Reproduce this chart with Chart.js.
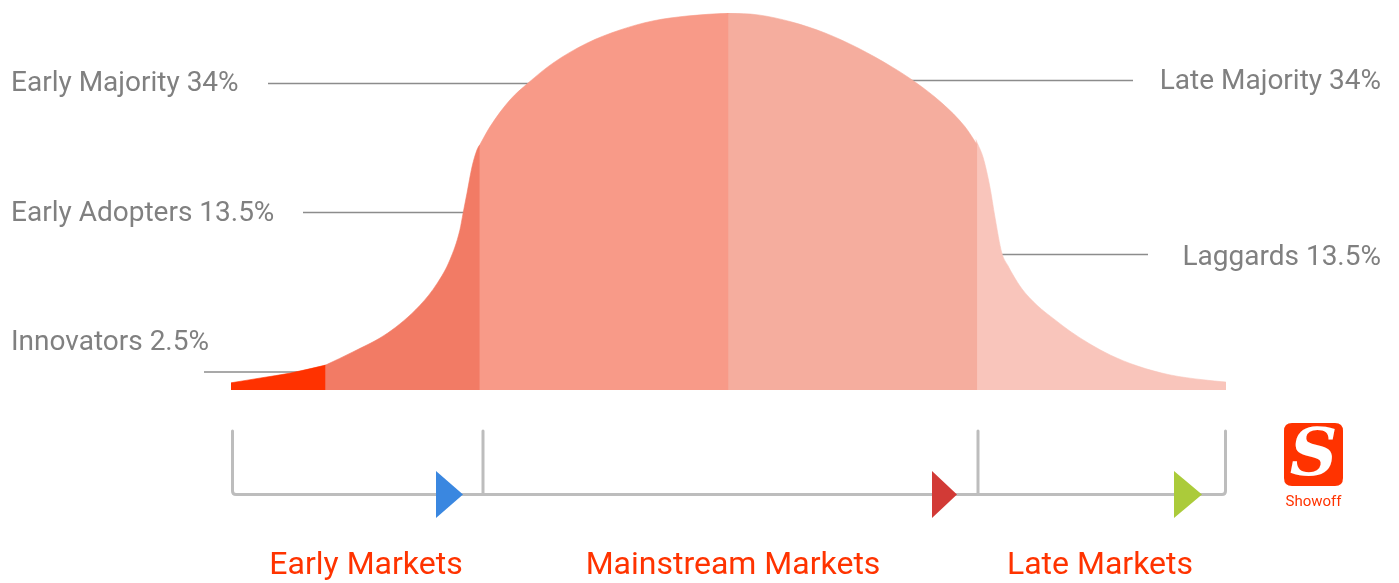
<!DOCTYPE html>
<html>
<head>
<meta charset="utf-8">
<script src="https://cdn.jsdelivr.net/npm/chart.js@4/dist/chart.umd.min.js"></script>
<style>
html,body{margin:0;padding:0;background:#fff;}
canvas{display:block;}
</style>
</head>
<body>
<canvas id="c" width="1399" height="583"></canvas>
<script>
// x: position in standard deviations from the mean; y: curve height (% of peak)
const innovatorsX = [-2.0, -1.88, -1.76, -1.62];
const innovatorsY = [1.9, 3.2, 4.5, 6.6];
const earlyAdoptersX = [-1.62, -1.51, -1.37, -1.24, -1.17, -1.12, -1.08, -1.067, -1.051, -1.031, -1.011, -1.0];
const earlyAdoptersY = [6.6, 10.1, 15.1, 22.5, 28.4, 34.5, 42.4, 46.9, 52.3, 59.2, 63.7, 65.0];
const earlyMajorityX = [-1.0, -0.959, -0.879, -0.806, -0.706, -0.569, -0.436, -0.304, -0.167, 0];
const earlyMajorityY = [65.0, 69.8, 76.9, 81.4, 86.7, 92.0, 95.5, 97.9, 99.2, 100];
const lateMajorityX = [0, 0.119, 0.255, 0.388, 0.521, 0.657, 0.75, 0.858, 0.951, 1.0];
const lateMajorityY = [100, 99.5, 97.6, 94.7, 90.7, 85.7, 81.7, 76.1, 69.8, 65.0];
const laggardsX = [1.0, 1.023, 1.051, 1.071, 1.099, 1.124, 1.144, 1.18, 1.24, 1.313, 1.373, 1.453, 1.534, 1.642, 1.775, 1.909, 2.0];
const laggardsY = [65.5, 61.8, 53.8, 45.9, 36.3, 32.9, 30.5, 26.8, 22.5, 18.6, 15.6, 12.2, 9.3, 6.4, 4.0, 2.7, 2.1];

const segmentNames = ['Innovators', 'Early Adopters', 'Early Majority', 'Late Majority', 'Laggards'];
const segmentShares = ['2.5%', '13.5%', '34%', '34%', '13.5%'];
const marketNames = ['Early Markets', 'Mainstream Markets', 'Late Markets'];

const segColors = ['#FF3200', '#F27B65', '#F89A88', '#F5AD9E', '#F9C5BB'];

const seriesX = [innovatorsX, earlyAdoptersX, earlyMajorityX, lateMajorityX, laggardsX];
const seriesY = [innovatorsY, earlyAdoptersY, earlyMajorityY, lateMajorityY, laggardsY];

function pts(xs, ys, overlap){
  const p = xs.map((x,i)=>({x:x, y:ys[i]}));
  // tiny overlap hidden under the previous segment to avoid anti-aliasing seams
  if (overlap) {
    const d = 0.006;
    const slope = (ys[1] - ys[0]) / (xs[1] - xs[0]);
    p.unshift({x: xs[0] - d, y: ys[0] - slope * d});
  }
  return p;
}

const datasets = segmentNames.map((n,i)=>({
  label: n,
  data: pts(seriesX[i], seriesY[i], i > 0),
  backgroundColor: segColors[i],
  borderColor: segColors[i],
  borderWidth: 0.6,
  pointRadius: 0,
  fill: 'origin',
  cubicInterpolationMode: 'monotone'
}));

const FONT = 'Roboto, "Noto Sans", sans-serif';

const decor = {
  id: 'decor',
  beforeDatasetsDraw(chart){
    const ctx = chart.ctx;
    ctx.save();
    ctx.strokeStyle = '#8c8c8c';
    ctx.lineWidth = 1.5;
    const leaders = [
      [204, 330, 372],   // Innovators
      [303, 468, 212.5], // Early Adopters
      [268, 560, 83.5],  // Early Majority
      [880, 1133, 80.5], // Late Majority
      [990, 1148, 254.5] // Laggards
    ];
    leaders.forEach(l=>{
      ctx.beginPath(); ctx.moveTo(l[0], l[2]); ctx.lineTo(l[1], l[2]); ctx.stroke();
    });
    ctx.restore();
  },
  afterDatasetsDraw(chart){
    const ctx = chart.ctx;
    ctx.save();
    // segment labels
    ctx.fillStyle = '#808080';
    ctx.font = '28px ' + FONT;
    ctx.textBaseline = 'middle';
    ctx.textAlign = 'left';
    ctx.fillText(segmentNames[2] + ' ' + segmentShares[2], 11, 84);
    ctx.fillText(segmentNames[1] + ' ' + segmentShares[1], 11, 214);
    ctx.fillText(segmentNames[0] + ' ' + segmentShares[0], 11, 343);
    ctx.textAlign = 'right';
    ctx.fillText(segmentNames[3] + ' ' + segmentShares[3], 1381, 82);
    ctx.fillText(segmentNames[4] + ' ' + segmentShares[4], 1381, 258);

    // bracket
    ctx.strokeStyle = '#bdbdbd';
    ctx.lineWidth = 3;
    ctx.lineJoin = 'round';
    ctx.lineCap = 'round';
    ctx.beginPath();
    ctx.moveTo(232.5, 431);
    ctx.lineTo(232.5, 491);
    ctx.quadraticCurveTo(232.5, 494.5, 236, 494.5);
    ctx.lineTo(1222, 494.5);
    ctx.quadraticCurveTo(1225.5, 494.5, 1225.5, 491);
    ctx.lineTo(1225.5, 431);
    ctx.stroke();
    [483, 978].forEach(x=>{
      ctx.beginPath(); ctx.moveTo(x, 431); ctx.lineTo(x, 494); ctx.stroke();
    });

    // triangles
    const tris = [
      [436, 463, '#3A87E0'],
      [932, 957, '#D23A36'],
      [1174, 1202, '#ABCB3A']
    ];
    tris.forEach(t=>{
      ctx.fillStyle = t[2];
      ctx.beginPath();
      ctx.moveTo(t[0], 471);
      ctx.lineTo(t[1], 494.5);
      ctx.lineTo(t[0], 518);
      ctx.closePath();
      ctx.fill();
    });

    // market labels
    ctx.fillStyle = '#FF3300';
    ctx.font = '32px ' + FONT;
    ctx.textAlign = 'center';
    ctx.textBaseline = 'middle';
    ctx.fillText(marketNames[0], 366, 566);
    ctx.fillText(marketNames[1], 733, 566);
    ctx.fillText(marketNames[2], 1100, 566);

    // logo
    ctx.fillStyle = '#FF3300';
    const lx = 1284, ly = 423, lw = 59, lh = 63, r = 8;
    ctx.beginPath();
    ctx.moveTo(lx + r, ly);
    ctx.lineTo(lx + lw - r, ly);
    ctx.quadraticCurveTo(lx + lw, ly, lx + lw, ly + r);
    ctx.lineTo(lx + lw, ly + lh - r);
    ctx.quadraticCurveTo(lx + lw, ly + lh, lx + lw - r, ly + lh);
    ctx.lineTo(lx + r, ly + lh);
    ctx.quadraticCurveTo(lx, ly + lh, lx, ly + lh - r);
    ctx.lineTo(lx, ly + r);
    ctx.quadraticCurveTo(lx, ly, lx + r, ly);
    ctx.closePath();
    ctx.fill();
    ctx.fillStyle = '#ffffff';
    ctx.font = 'italic bold 66px "DejaVu Serif", serif';
    ctx.textAlign = 'center';
    ctx.textBaseline = 'middle';
    ctx.fillText('S', lx + lw / 2, ly + lh / 2 + 3);
    ctx.fillStyle = '#FF3300';
    ctx.font = '15px ' + FONT;
    ctx.fillText('Showoff', lx + lw / 2, 502);
    ctx.restore();
  }
};

new Chart(document.getElementById('c'), {
  type: 'line',
  data: { datasets: datasets },
  options: {
    responsive: false,
    animation: false,
    events: [],
    layout: { padding: { left: 231, right: 173, top: 13, bottom: 193 } },
    plugins: { legend: { display: false }, tooltip: { enabled: false }, title: { display: false } },
    scales: {
      x: { type: 'linear', min: -2, max: 2, display: false },
      y: { type: 'linear', min: 0, max: 100, display: false }
    }
  },
  plugins: [decor]
});
</script>
</body>
</html>
